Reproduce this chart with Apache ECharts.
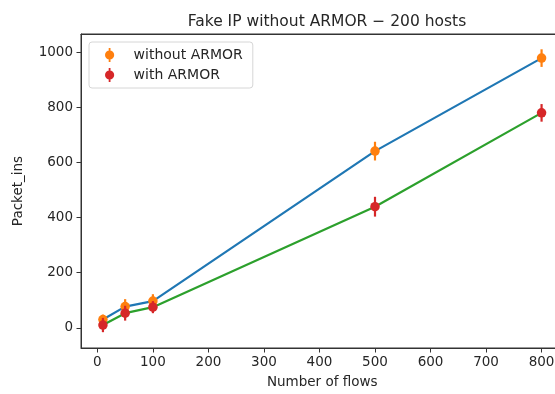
<!DOCTYPE html>
<html>
<head>
<meta charset="utf-8">
<script src="https://cdn.jsdelivr.net/npm/echarts@6/dist/echarts.min.js"></script>
<style>
html, body { margin:0; padding:0; overflow:hidden; background:#fff; width:555px; height:394px; }
#chart { width:580px; height:394px; }
</style>
</head>
<body>
<div id="chart"></div>
<script>
const flows = [10, 50, 100, 500, 800];
const withoutArmor = [30, 77, 97, 642, 980];
const withoutArmorErr = [18, 27, 25, 34, 32];
const withArmor = [10, 53, 75, 440, 781];
const withArmorErr = [26, 27, 22, 36, 32];
const xTicks = [0, 100, 200, 300, 400, 500, 600, 700, 800];
const yTicks = [0, 200, 400, 600, 800, 1000];

const FONT = 'DejaVu Sans';
const TXT = '#262626';

function pts(ys) { return flows.map((x, i) => [x, ys[i]]); }
function errs(ys, es) { return flows.map((x, i) => [x, ys[i] - es[i], ys[i] + es[i]]); }

function errRender(color) {
  return function (params, api) {
    const p1 = api.coord([api.value(0), api.value(1)]);
    const p2 = api.coord([api.value(0), api.value(2)]);
    return {
      type: 'line',
      shape: { x1: p1[0], y1: p1[1], x2: p2[0], y2: p2[1] },
      style: { stroke: color, lineWidth: 2.2 }
    };
  };
}

const iconPath = 'path://M4.1,0h1.8v14h-1.8z M9.6,7a4.6,4.6 0 1,1 -9.2,0a4.6,4.6 0 1,1 9.2,0z';
const axisLineStyle = { color: '#333', width: 1 };

const chart = echarts.init(document.getElementById('chart'), null, { renderer: 'canvas' });
chart.setOption({
  animation: false,
  backgroundColor: '#fff',
  title: {
    text: 'Fake IP without ARMOR \u2212 200 hosts',
    left: 322, top: 9, textAlign: 'center',
    textStyle: { fontFamily: FONT, fontSize: 15.5, fontWeight: 'normal', color: TXT }
  },
  legend: {
    left: 89, top: 42, orient: 'vertical',
    data: ['without ARMOR', 'with ARMOR'],
    icon: iconPath, itemWidth: 10, itemHeight: 14, itemGap: 6,
    padding: [6, 10, 6, 16],
    backgroundColor: '#fff', borderColor: '#d6d6d6', borderWidth: 1, borderRadius: 3,
    textStyle: { fontFamily: FONT, fontSize: 14, color: TXT, padding: [0, 0, 0, 14] }
  },
  grid: { left: 81, right: 16.5, top: 34, bottom: 45, show: true, borderColor: '#333', borderWidth: 1, backgroundColor: 'transparent' },
  xAxis: [{
    type: 'value', min: -29.5, max: 839.5,
    name: 'Number of flows', nameLocation: 'middle', nameGap: 27,
    nameTextStyle: { fontFamily: FONT, fontSize: 13.5, color: TXT },
    axisLine: { show: true, onZero: false, lineStyle: axisLineStyle },
    splitLine: { show: false },
    axisTick: { show: true, length: 4.5, customValues: xTicks, lineStyle: { color: '#333' } },
    axisLabel: { customValues: xTicks, fontFamily: FONT, fontSize: 13.5, color: TXT, margin: 7,
      formatter: v => String(v) }
  }, {
    type: 'value', position: 'top', min: -29.5, max: 839.5,
    axisLine: { show: true, onZero: false, lineStyle: axisLineStyle },
    axisTick: { show: false }, axisLabel: { show: false }, splitLine: { show: false }
  }],
  yAxis: {
    type: 'value', min: -73.5, max: 1067.6,
    name: 'Packet_ins', nameLocation: 'middle', nameGap: 56,
    nameTextStyle: { fontFamily: FONT, fontSize: 13.5, color: TXT },
    axisLine: { show: true, onZero: false, lineStyle: axisLineStyle },
    splitLine: { show: false },
    axisTick: { show: true, length: 4.5, customValues: yTicks, lineStyle: { color: '#333' } },
    axisLabel: { customValues: yTicks, fontFamily: FONT, fontSize: 13.5, color: TXT, margin: 8,
      formatter: v => String(v) }
  },
  series: [
    { name: 'line_without', type: 'line', data: pts(withoutArmor), showSymbol: false, symbol: 'none',
      lineStyle: { color: '#1f77b4', width: 2.2 }, z: 2 },
    { name: 'without ARMOR', type: 'custom', data: errs(withoutArmor, withoutArmorErr),
      renderItem: errRender('#ff7f0e'), itemStyle: { color: '#ff7f0e' }, z: 3, encode: { x: 0, y: [1, 2] } },
    { name: 'without ARMOR', type: 'scatter', data: pts(withoutArmor), symbol: 'circle', symbolSize: 9.5,
      itemStyle: { color: '#ff7f0e', opacity: 1 }, z: 4 },
    { name: 'line_with', type: 'line', data: pts(withArmor), showSymbol: false, symbol: 'none',
      lineStyle: { color: '#2ca02c', width: 2.2 }, z: 5 },
    { name: 'with ARMOR', type: 'custom', data: errs(withArmor, withArmorErr),
      renderItem: errRender('#d62728'), itemStyle: { color: '#d62728' }, z: 6, encode: { x: 0, y: [1, 2] } },
    { name: 'with ARMOR', type: 'scatter', data: pts(withArmor), symbol: 'circle', symbolSize: 9.5,
      itemStyle: { color: '#d62728', opacity: 1 }, z: 7 }
  ]
});
</script>
</body>
</html>
